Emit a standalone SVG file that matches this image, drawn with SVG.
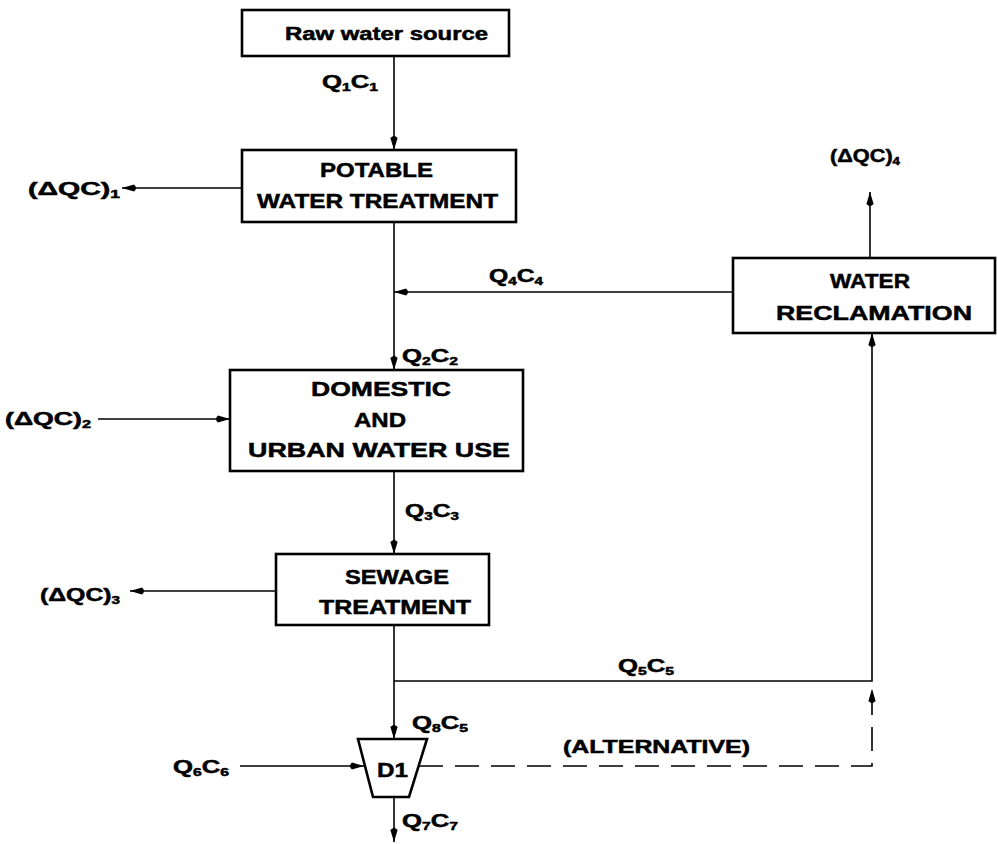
<svg xmlns="http://www.w3.org/2000/svg" width="998" height="844" viewBox="0 0 998 844">
<defs>
<marker id="ah" markerUnits="userSpaceOnUse" markerWidth="18" markerHeight="10" refX="16" refY="5" orient="auto" overflow="visible"><path d="M16,5 L4,1.4 Q0,5 4,8.6 Z" fill="#000"/></marker>
</defs>
<style>
.box{fill:#fff;stroke:#000;stroke-width:2.6}
.ln{fill:none;stroke:#000;stroke-width:1.6;marker-end:url(#ah)}
.dash{stroke-dasharray:24 12}
text{font-family:"Liberation Sans",Arial,sans-serif;font-weight:bold;font-size:18px;fill:#000;stroke:#000;stroke-width:0.5}
.b{font-size:21px}
.s{font-size:11px}
</style>
<rect width="998" height="844" fill="#fff"/>
<g id="connectors">
<path class="ln" d="M394,56 V150"/>
<path class="ln" d="M242,188 H122"/>
<path class="ln" d="M394,222 V370"/>
<path class="ln" d="M733,292 H394"/>
<path class="ln" d="M870,258 V192"/>
<path class="ln" d="M98,419 H230"/>
<path class="ln" d="M394,471 V554"/>
<path class="ln" d="M276,591 H130"/>
<path class="ln" d="M394,625 V739"/>
<path class="ln" d="M394,681 H872 V333"/>
<path class="ln" d="M240,766 H364"/>
<path class="ln dash" d="M419,766 H872 V689"/>
<path class="ln" d="M394,797 V842"/>
</g>
<g id="labels">
<text x="322" y="88" textLength="56" lengthAdjust="spacingAndGlyphs">Q<tspan class="s" dy="3">1</tspan><tspan dy="-3">C</tspan><tspan class="s" dy="3">1</tspan></text>
<text x="28" y="195" textLength="92" lengthAdjust="spacingAndGlyphs">(ΔQC)<tspan class="s" dy="3">1</tspan></text>
<text x="830" y="162" textLength="70" lengthAdjust="spacingAndGlyphs">(ΔQC)<tspan class="s" dy="3">4</tspan></text>
<text x="489" y="282" textLength="54" lengthAdjust="spacingAndGlyphs">Q<tspan class="s" dy="3">4</tspan><tspan dy="-3">C</tspan><tspan class="s" dy="3">4</tspan></text>
<text x="402" y="362" textLength="56" lengthAdjust="spacingAndGlyphs">Q<tspan class="s" dy="3">2</tspan><tspan dy="-3">C</tspan><tspan class="s" dy="3">2</tspan></text>
<text x="5" y="425" textLength="86" lengthAdjust="spacingAndGlyphs">(ΔQC)<tspan class="s" dy="3">2</tspan></text>
<text x="405" y="517" textLength="54" lengthAdjust="spacingAndGlyphs">Q<tspan class="s" dy="3">3</tspan><tspan dy="-3">C</tspan><tspan class="s" dy="3">3</tspan></text>
<text x="40" y="601" textLength="80" lengthAdjust="spacingAndGlyphs">(ΔQC)<tspan class="s" dy="3">3</tspan></text>
<text x="618" y="672" textLength="56" lengthAdjust="spacingAndGlyphs">Q<tspan class="s" dy="3">5</tspan><tspan dy="-3">C</tspan><tspan class="s" dy="3">5</tspan></text>
<text x="412" y="729" textLength="56" lengthAdjust="spacingAndGlyphs">Q<tspan class="s" dy="3">8</tspan><tspan dy="-3">C</tspan><tspan class="s" dy="3">5</tspan></text>
<text x="173" y="773" textLength="56" lengthAdjust="spacingAndGlyphs">Q<tspan class="s" dy="3">6</tspan><tspan dy="-3">C</tspan><tspan class="s" dy="3">6</tspan></text>
<text x="563" y="753" textLength="187" lengthAdjust="spacingAndGlyphs">(ALTERNATIVE)</text>
<text x="402" y="827" textLength="56" lengthAdjust="spacingAndGlyphs">Q<tspan class="s" dy="3">7</tspan><tspan dy="-3">C</tspan><tspan class="s" dy="3">7</tspan></text>
</g>
<g id="raw">
<rect class="box" x="242" y="10" width="267" height="46"/>
<text x="285" y="40" textLength="203" lengthAdjust="spacingAndGlyphs">Raw water source</text>
</g>
<g id="potable">
<rect class="box" x="242" y="150" width="274" height="72"/>
<text class="b" x="320" y="177" textLength="113" lengthAdjust="spacingAndGlyphs">POTABLE</text>
<text class="b" x="257" y="208" textLength="241" lengthAdjust="spacingAndGlyphs">WATER TREATMENT</text>
</g>
<g id="reclamation">
<rect class="box" x="733" y="258" width="262" height="75"/>
<text class="b" x="830" y="288" textLength="80" lengthAdjust="spacingAndGlyphs">WATER</text>
<text class="b" x="776" y="320" textLength="196" lengthAdjust="spacingAndGlyphs">RECLAMATION</text>
</g>
<g id="domestic">
<rect class="box" x="230" y="370" width="293" height="101"/>
<text class="b" x="311" y="396" textLength="140" lengthAdjust="spacingAndGlyphs">DOMESTIC</text>
<text class="b" x="354" y="427" textLength="52" lengthAdjust="spacingAndGlyphs">AND</text>
<text class="b" x="248" y="457" textLength="262" lengthAdjust="spacingAndGlyphs">URBAN WATER USE</text>
</g>
<g id="sewage">
<rect class="box" x="276" y="554" width="213" height="71"/>
<text class="b" x="345" y="584" textLength="104" lengthAdjust="spacingAndGlyphs">SEWAGE</text>
<text class="b" x="319" y="614" textLength="152" lengthAdjust="spacingAndGlyphs">TREATMENT</text>
</g>
<g id="d1">
<polygon class="box" points="358,739 427,739 409,797 373,797"/>
<text class="b" x="377" y="777" textLength="31" lengthAdjust="spacingAndGlyphs">D1</text>
</g>
</svg>
